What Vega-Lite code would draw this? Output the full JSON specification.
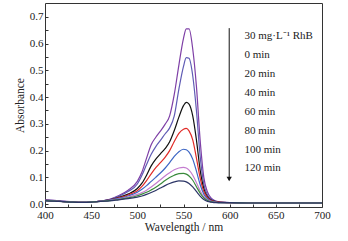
{
  "$schema": "https://vega.github.io/schema/vega-lite/v6.json",
  "width": 277,
  "height": 204,
  "autosize": {"type": "none"},
  "padding": {"left": 45, "top": 3, "right": 26, "bottom": 34},
  "background": "white",
  "config": {
    "view": {"stroke": "#333", "strokeWidth": 1},
    "font": "Liberation Serif",
    "axis": {"labelFont": "Liberation Serif", "titleFont": "Liberation Serif", "labelFontSize": 11, "titleFontSize": 11.5, "titleFontWeight": "normal", "labelColor": "#222", "titleColor": "#222", "domain": false, "grid": false, "tickColor": "#333", "labelOverlap": false}
  },
  "datasets": {
    "spec": [
      {"s":"a","w":400,"v":0.016},{"s":"a","w":410,"v":0.014},{"s":"a","w":420,"v":0.011},{"s":"a","w":430,"v":0.008},{"s":"a","w":440,"v":0.006},{"s":"a","w":450,"v":0.007},{"s":"a","w":460,"v":0.011},{"s":"a","w":470,"v":0.018},{"s":"a","w":480,"v":0.032},{"s":"a","w":490,"v":0.052},{"s":"a","w":500,"v":0.085},{"s":"a","w":505,"v":0.12},{"s":"a","w":510,"v":0.172},{"s":"a","w":515,"v":0.222},{"s":"a","w":520,"v":0.25},{"s":"a","w":525,"v":0.273},{"s":"a","w":530,"v":0.298},{"s":"a","w":535,"v":0.33},{"s":"a","w":540,"v":0.41},{"s":"a","w":545,"v":0.52},{"s":"a","w":550,"v":0.62},{"s":"a","w":553,"v":0.655},{"s":"a","w":556,"v":0.655},{"s":"a","w":560,"v":0.58},{"s":"a","w":564,"v":0.44},{"s":"a","w":568,"v":0.24},{"s":"a","w":572,"v":0.1},{"s":"a","w":576,"v":0.045},{"s":"a","w":580,"v":0.022},{"s":"a","w":585,"v":0.011},{"s":"a","w":590,"v":0.007},{"s":"a","w":600,"v":0.005},{"s":"a","w":620,"v":0.004},{"s":"a","w":650,"v":0.004},{"s":"a","w":700,"v":0.004},
      {"s":"b","w":400,"v":0.015},{"s":"b","w":410,"v":0.013},{"s":"b","w":420,"v":0.01},{"s":"b","w":430,"v":0.007},{"s":"b","w":440,"v":0.006},{"s":"b","w":450,"v":0.007},{"s":"b","w":460,"v":0.011},{"s":"b","w":470,"v":0.017},{"s":"b","w":480,"v":0.029},{"s":"b","w":490,"v":0.047},{"s":"b","w":500,"v":0.075},{"s":"b","w":505,"v":0.108},{"s":"b","w":510,"v":0.148},{"s":"b","w":515,"v":0.186},{"s":"b","w":520,"v":0.215},{"s":"b","w":525,"v":0.238},{"s":"b","w":530,"v":0.262},{"s":"b","w":535,"v":0.285},{"s":"b","w":540,"v":0.33},{"s":"b","w":545,"v":0.43},{"s":"b","w":550,"v":0.515},{"s":"b","w":553,"v":0.548},{"s":"b","w":556,"v":0.545},{"s":"b","w":560,"v":0.48},{"s":"b","w":564,"v":0.35},{"s":"b","w":568,"v":0.18},{"s":"b","w":572,"v":0.075},{"s":"b","w":576,"v":0.034},{"s":"b","w":580,"v":0.018},{"s":"b","w":585,"v":0.01},{"s":"b","w":590,"v":0.007},{"s":"b","w":600,"v":0.005},{"s":"b","w":620,"v":0.004},{"s":"b","w":650,"v":0.004},{"s":"b","w":700,"v":0.004},
      {"s":"c","w":400,"v":0.014},{"s":"c","w":410,"v":0.012},{"s":"c","w":420,"v":0.009},{"s":"c","w":430,"v":0.007},{"s":"c","w":440,"v":0.006},{"s":"c","w":450,"v":0.007},{"s":"c","w":460,"v":0.011},{"s":"c","w":470,"v":0.016},{"s":"c","w":480,"v":0.025},{"s":"c","w":490,"v":0.037},{"s":"c","w":500,"v":0.058},{"s":"c","w":505,"v":0.078},{"s":"c","w":510,"v":0.108},{"s":"c","w":515,"v":0.143},{"s":"c","w":520,"v":0.168},{"s":"c","w":525,"v":0.188},{"s":"c","w":530,"v":0.207},{"s":"c","w":535,"v":0.233},{"s":"c","w":540,"v":0.275},{"s":"c","w":545,"v":0.325},{"s":"c","w":550,"v":0.368},{"s":"c","w":553,"v":0.38},{"s":"c","w":556,"v":0.374},{"s":"c","w":560,"v":0.33},{"s":"c","w":564,"v":0.24},{"s":"c","w":568,"v":0.128},{"s":"c","w":572,"v":0.058},{"s":"c","w":576,"v":0.027},{"s":"c","w":580,"v":0.015},{"s":"c","w":585,"v":0.009},{"s":"c","w":590,"v":0.006},{"s":"c","w":600,"v":0.005},{"s":"c","w":620,"v":0.004},{"s":"c","w":650,"v":0.004},{"s":"c","w":700,"v":0.004},
      {"s":"d","w":400,"v":0.014},{"s":"d","w":410,"v":0.012},{"s":"d","w":420,"v":0.009},{"s":"d","w":430,"v":0.007},{"s":"d","w":440,"v":0.006},{"s":"d","w":450,"v":0.007},{"s":"d","w":460,"v":0.011},{"s":"d","w":470,"v":0.015},{"s":"d","w":480,"v":0.023},{"s":"d","w":490,"v":0.034},{"s":"d","w":500,"v":0.05},{"s":"d","w":505,"v":0.066},{"s":"d","w":510,"v":0.088},{"s":"d","w":515,"v":0.113},{"s":"d","w":520,"v":0.136},{"s":"d","w":525,"v":0.155},{"s":"d","w":530,"v":0.175},{"s":"d","w":535,"v":0.2},{"s":"d","w":540,"v":0.234},{"s":"d","w":545,"v":0.264},{"s":"d","w":550,"v":0.28},{"s":"d","w":553,"v":0.283},{"s":"d","w":556,"v":0.274},{"s":"d","w":560,"v":0.24},{"s":"d","w":564,"v":0.172},{"s":"d","w":568,"v":0.098},{"s":"d","w":572,"v":0.047},{"s":"d","w":576,"v":0.023},{"s":"d","w":580,"v":0.013},{"s":"d","w":585,"v":0.008},{"s":"d","w":590,"v":0.006},{"s":"d","w":600,"v":0.005},{"s":"d","w":620,"v":0.004},{"s":"d","w":650,"v":0.004},{"s":"d","w":700,"v":0.004},
      {"s":"e","w":400,"v":0.014},{"s":"e","w":410,"v":0.012},{"s":"e","w":420,"v":0.009},{"s":"e","w":430,"v":0.007},{"s":"e","w":440,"v":0.006},{"s":"e","w":450,"v":0.007},{"s":"e","w":460,"v":0.011},{"s":"e","w":470,"v":0.015},{"s":"e","w":480,"v":0.021},{"s":"e","w":490,"v":0.03},{"s":"e","w":500,"v":0.044},{"s":"e","w":505,"v":0.055},{"s":"e","w":510,"v":0.069},{"s":"e","w":515,"v":0.085},{"s":"e","w":520,"v":0.1},{"s":"e","w":525,"v":0.116},{"s":"e","w":530,"v":0.134},{"s":"e","w":535,"v":0.155},{"s":"e","w":540,"v":0.178},{"s":"e","w":545,"v":0.196},{"s":"e","w":550,"v":0.205},{"s":"e","w":553,"v":0.203},{"s":"e","w":556,"v":0.194},{"s":"e","w":560,"v":0.168},{"s":"e","w":564,"v":0.123},{"s":"e","w":568,"v":0.073},{"s":"e","w":572,"v":0.037},{"s":"e","w":576,"v":0.019},{"s":"e","w":580,"v":0.011},{"s":"e","w":585,"v":0.007},{"s":"e","w":590,"v":0.005},{"s":"e","w":600,"v":0.005},{"s":"e","w":620,"v":0.004},{"s":"e","w":650,"v":0.004},{"s":"e","w":700,"v":0.004},
      {"s":"f","w":400,"v":0.013},{"s":"f","w":410,"v":0.011},{"s":"f","w":420,"v":0.009},{"s":"f","w":430,"v":0.007},{"s":"f","w":440,"v":0.006},{"s":"f","w":450,"v":0.007},{"s":"f","w":460,"v":0.011},{"s":"f","w":470,"v":0.014},{"s":"f","w":480,"v":0.019},{"s":"f","w":490,"v":0.026},{"s":"f","w":500,"v":0.036},{"s":"f","w":505,"v":0.043},{"s":"f","w":510,"v":0.052},{"s":"f","w":515,"v":0.064},{"s":"f","w":520,"v":0.077},{"s":"f","w":525,"v":0.091},{"s":"f","w":530,"v":0.105},{"s":"f","w":535,"v":0.117},{"s":"f","w":540,"v":0.128},{"s":"f","w":545,"v":0.135},{"s":"f","w":550,"v":0.137},{"s":"f","w":553,"v":0.135},{"s":"f","w":556,"v":0.127},{"s":"f","w":560,"v":0.108},{"s":"f","w":564,"v":0.08},{"s":"f","w":568,"v":0.05},{"s":"f","w":572,"v":0.027},{"s":"f","w":576,"v":0.015},{"s":"f","w":580,"v":0.009},{"s":"f","w":585,"v":0.006},{"s":"f","w":590,"v":0.005},{"s":"f","w":600,"v":0.005},{"s":"f","w":620,"v":0.004},{"s":"f","w":650,"v":0.004},{"s":"f","w":700,"v":0.004},
      {"s":"g","w":400,"v":0.013},{"s":"g","w":410,"v":0.011},{"s":"g","w":420,"v":0.009},{"s":"g","w":430,"v":0.007},{"s":"g","w":440,"v":0.006},{"s":"g","w":450,"v":0.007},{"s":"g","w":460,"v":0.01},{"s":"g","w":470,"v":0.013},{"s":"g","w":480,"v":0.017},{"s":"g","w":490,"v":0.023},{"s":"g","w":500,"v":0.031},{"s":"g","w":505,"v":0.037},{"s":"g","w":510,"v":0.044},{"s":"g","w":515,"v":0.053},{"s":"g","w":520,"v":0.063},{"s":"g","w":525,"v":0.075},{"s":"g","w":530,"v":0.088},{"s":"g","w":535,"v":0.099},{"s":"g","w":540,"v":0.108},{"s":"g","w":545,"v":0.114},{"s":"g","w":550,"v":0.115},{"s":"g","w":553,"v":0.112},{"s":"g","w":556,"v":0.105},{"s":"g","w":560,"v":0.089},{"s":"g","w":564,"v":0.065},{"s":"g","w":568,"v":0.041},{"s":"g","w":572,"v":0.023},{"s":"g","w":576,"v":0.013},{"s":"g","w":580,"v":0.008},{"s":"g","w":585,"v":0.006},{"s":"g","w":590,"v":0.005},{"s":"g","w":600,"v":0.005},{"s":"g","w":620,"v":0.004},{"s":"g","w":650,"v":0.004},{"s":"g","w":700,"v":0.004},
      {"s":"h","w":400,"v":0.012},{"s":"h","w":410,"v":0.011},{"s":"h","w":420,"v":0.009},{"s":"h","w":430,"v":0.007},{"s":"h","w":440,"v":0.006},{"s":"h","w":450,"v":0.007},{"s":"h","w":460,"v":0.01},{"s":"h","w":470,"v":0.012},{"s":"h","w":480,"v":0.016},{"s":"h","w":490,"v":0.02},{"s":"h","w":500,"v":0.026},{"s":"h","w":505,"v":0.03},{"s":"h","w":510,"v":0.036},{"s":"h","w":515,"v":0.043},{"s":"h","w":520,"v":0.051},{"s":"h","w":525,"v":0.06},{"s":"h","w":530,"v":0.069},{"s":"h","w":535,"v":0.077},{"s":"h","w":540,"v":0.083},{"s":"h","w":545,"v":0.087},{"s":"h","w":550,"v":0.086},{"s":"h","w":553,"v":0.083},{"s":"h","w":556,"v":0.077},{"s":"h","w":560,"v":0.064},{"s":"h","w":564,"v":0.047},{"s":"h","w":568,"v":0.03},{"s":"h","w":572,"v":0.017},{"s":"h","w":576,"v":0.01},{"s":"h","w":580,"v":0.007},{"s":"h","w":585,"v":0.005},{"s":"h","w":590,"v":0.005},{"s":"h","w":600,"v":0.005},{"s":"h","w":620,"v":0.004},{"s":"h","w":650,"v":0.004},{"s":"h","w":700,"v":0.004}
    ],
    "labels": [
      {"t":"30 mg·L⁻¹ RhB","w":616,"v":0.627},
      {"t":"0 min","w":616,"v":0.558},
      {"t":"20 min","w":616,"v":0.487},
      {"t":"40 min","w":616,"v":0.415},
      {"t":"60 min","w":616,"v":0.343},
      {"t":"80 min","w":616,"v":0.273},
      {"t":"100 min","w":616,"v":0.202},
      {"t":"120 min","w":616,"v":0.133}
    ],
    "arrow": [{"w":599.5,"v":0.658,"v2":0.09}],
    "head": [{"w":599.5,"v":0.094}]
  },
  "encoding": {
    "x": {"field": "w", "type": "quantitative", "scale": {"domain": [400, 700], "nice": false}, "title": "Wavelength / nm",
      "axis": {"values": [400,425,450,475,500,525,550,575,600,625,650,675,700], "labelExpr": "datum.value % 50 === 0 ? datum.label : ''", "tickSize": -3, "labelPadding": 5, "titlePadding": 1, "labelFlush": false, "labelOverlap": false}},
    "y": {"field": "v", "type": "quantitative", "scale": {"domain": [-0.011, 0.752], "nice": false, "zero": false}, "title": "Absorbance",
      "axis": {"values": [0,0.05,0.1,0.15,0.2,0.25,0.3,0.35,0.4,0.45,0.5,0.55,0.6,0.65,0.7], "labelExpr": "substring(format(datum.value, '.2f'), 3) == '0' ? format(datum.value, '.1f') : ''", "tickSize": -3, "labelPadding": 5, "titlePadding": 4, "labelOverlap": false, "labelBound": false}}
  },
  "layer": [
    {
      "data": {"name": "spec"},
      "mark": {"type": "line", "interpolate": "monotone", "strokeWidth": 1.2},
      "encoding": {
        "color": {"field": "s", "type": "nominal", "legend": null,
          "scale": {"domain": ["a","b","c","d","e","f","g","h"], "range": ["#7E3FA6","#5F5BB4","#111111","#E02A26","#3D66C4","#C47CCF","#3A8A3C","#2C3566"]}}
      }
    },
    {
      "data": {"name": "arrow"},
      "mark": {"type": "rule", "color": "#111", "strokeWidth": 1},
      "encoding": {"y2": {"field": "v2"}}
    },
    {
      "data": {"name": "head"},
      "mark": {"type": "point", "shape": "triangle-down", "filled": true, "color": "#111", "size": 28, "opacity": 1},
      "encoding": {}
    },
    {
      "data": {"name": "labels"},
      "mark": {"type": "text", "align": "left", "baseline": "middle", "font": "Liberation Serif", "fontSize": 11, "color": "#222"},
      "encoding": {"text": {"field": "t"}}
    }
  ]
}
